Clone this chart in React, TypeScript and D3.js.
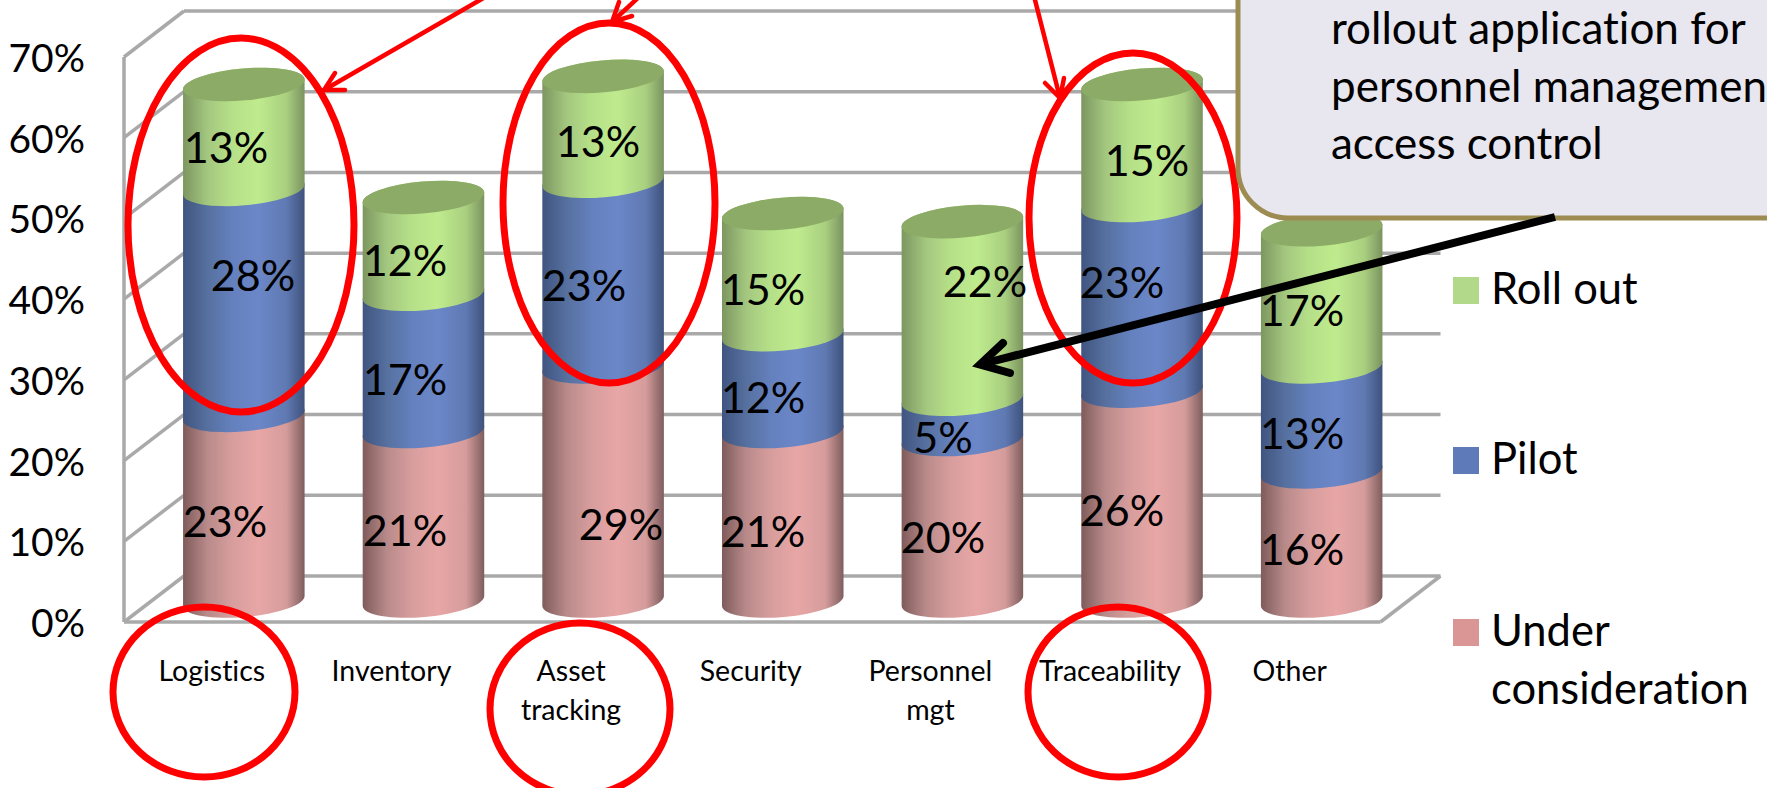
import React from "react";
import * as d3 from "d3";

// Adoption of tracking applications by sector, stacked by project stage.
const categories = ["Logistics", "Inventory", "Asset tracking", "Security", "Personnel mgt", "Traceability", "Other"];
const underConsideration = [23, 21, 29, 21, 20, 26, 16];
const pilot = [28, 17, 23, 12, 5, 23, 13];
const rollOut = [13, 12, 13, 15, 22, 15, 17];
const yTicks = [0, 10, 20, 30, 40, 50, 60, 70];
const calloutLines = ["rollout application for", "personnel management", "access control"];

const WIDTH = 1767;
const HEIGHT = 788;
const FONT = "Lato, sans-serif";
const TILT = 5;
const RX = 61;
const RY = 16;
const DEPTH = { x: 60, y: -46 };

const y = d3.scaleLinear().domain([0, 70]).range([622, 57]);
const xBand = d3.scaleBand<string>().domain(categories).range([123, 1380.5]).paddingInner(0).paddingOuter(0);
const cylinderCentre = (c: string) => (xBand(c) as number) + xBand.bandwidth() / 2 + 31;
const labelCentre = (c: string) => (xBand(c) as number) + xBand.bandwidth() / 2 - 1;
const cylinderBase = (v: number) => y(v) - 21;

const stages = [
  { key: "under", name: ["Under", "consideration"], values: underConsideration, swatch: "#d99694", stops: ["#7f5b5b", "#b98a8a", "#d79d9d", "#e8a6a6", "#d59c9c", "#7e5d5d"] },
  { key: "pilot", name: ["Pilot"], values: pilot, swatch: "#5f7ab8", stops: ["#405480", "#56709f", "#6480bd", "#6b87c8", "#5f79b2", "#3f527c"] },
  { key: "roll", name: ["Roll out"], values: rollOut, swatch: "#b2d88a", stops: ["#7d9660", "#a3c77f", "#b6e088", "#bfeb8e", "#a9cf7f", "#7b9360"] },
];

// Hand-placed value labels, in the same order as the stages above.
const labelSpots: [number, number][][] = [
  [[225, 522], [253, 276], [226, 148]],
  [[405, 531], [405, 380], [405, 261]],
  [[621, 525], [584, 286], [598, 142]],
  [[763, 532], [763, 398], [763, 290]],
  [[943, 538], [943, 438], [985, 282]],
  [[1122, 511], [1122, 283], [1147, 161]],
  [[1302, 550], [1302, 434], [1302, 311]],
];

const highlightRings = [
  { cx: 241, cy: 225, rx: 113, ry: 187 },
  { cx: 609, cy: 203, rx: 106, ry: 180 },
  { cx: 1133, cy: 218, rx: 104, ry: 165 },
  { cx: 204, cy: 692, rx: 91, ry: 85 },
  { cx: 580, cy: 709, rx: 90, ry: 86 },
  { cx: 1118, cy: 692, rx: 90, ry: 85 },
];

const redArrows = [
  { from: [487, -4], tip: [324, 90], barbs: [[335, 73], [345, 90]] },
  { from: [640, -4], tip: [612, 22], barbs: [[619, 2], [632, 16]] },
  { from: [1034, -4], tip: [1060, 98], barbs: [[1045, 83], [1064, 78]] },
];

const ends = (cx: number, cy: number) => {
  const t = (TILT * Math.PI) / 180;
  return {
    lx: cx - RX * Math.cos(t),
    ly: cy + RX * Math.sin(t),
    rx: cx + RX * Math.cos(t),
    ry: cy - RX * Math.sin(t),
  };
};

// One drum of a cylinder: sides, front curve at the bottom, back curve at the top.
const drumPath = (cx: number, top: number, bottom: number) => {
  const a = ends(cx, top);
  const b = ends(cx, bottom);
  const arc = `A${RX} ${RY} ${-TILT} 0 0`;
  return `M${a.lx} ${a.ly}L${b.lx} ${b.ly}${arc} ${b.rx} ${b.ry}L${a.rx} ${a.ry}${arc} ${a.lx} ${a.ly}Z`;
};

const Cylinder = ({ index, category }: { index: number; category: string }) => {
  const cx = cylinderCentre(category);
  let running = 0;
  const drums = stages.map((s) => {
    const from = running;
    running += s.values[index];
    return { key: s.key, from, to: running };
  });
  const topY = cylinderBase(running);
  return (
    <g>
      {drums.map((d) => (
        <path
          key={d.key}
          d={drumPath(cx, cylinderBase(d.to), cylinderBase(d.from))}
          fill={`url(#grad-${d.key})`}
        />
      ))}
      <ellipse cx={cx} cy={topY} rx={RX} ry={RY} fill="#8cab66" transform={`rotate(${-TILT} ${cx} ${topY})`} />
    </g>
  );
};

export default function App() {
  const line = d3.line();
  const backX0 = 124 + DEPTH.x;
  const backX1 = 1380.5 + DEPTH.x;
  return (
    <svg
      width={WIDTH}
      height={HEIGHT}
      viewBox={`0 0 ${WIDTH} ${HEIGHT}`}
      style={{ position: "absolute", left: 0, top: 0, display: "block", background: "#fff", fontVariantLigatures: "none" }}
      fontFamily={FONT}
    >
      <defs>
        {stages.map((s) => (
          <linearGradient key={s.key} id={`grad-${s.key}`} x1="0" x2="1" y1="0" y2="0">
            {s.stops.map((c, i) => (
              <stop key={i} offset={[0, 0.2, 0.4, 0.62, 0.85, 1][i]} stopColor={c} />
            ))}
          </linearGradient>
        ))}
      </defs>

      {/* Walls and floor */}
      <g stroke="#a9a9a9" strokeWidth={3.5} fill="none">
        <line x1={124} x2={124} y1={y(70)} y2={y(0)} />
        <line x1={124} x2={1380.5} y1={y(0)} y2={y(0)} />
        <line x1={1380.5} x2={backX1} y1={y(0)} y2={y(0) + DEPTH.y} />
        {yTicks.map((t) => (
          <g key={t}>
            <line x1={124} x2={backX0} y1={y(t)} y2={y(t) + DEPTH.y} />
            <line x1={backX0} x2={backX1} y1={y(t) + DEPTH.y} y2={y(t) + DEPTH.y} />
          </g>
        ))}
      </g>

      {yTicks.map((t) => (
        <text key={t} x={85} y={y(t) + 1} dy=".36em" textAnchor="end" fontSize={39} fill="#000">
          {t}%
        </text>
      ))}

      {categories.map((c, i) => (
        <Cylinder key={c} index={i} category={c} />
      ))}

      {categories.map((c, i) =>
        stages.map((s, j) => (
          <text
            key={s.key + c}
            x={labelSpots[i][j][0]}
            y={labelSpots[i][j][1]}
            dy=".36em"
            textAnchor="middle"
            fontSize={43}
            fill="#000"
          >
            {s.values[i]}%
          </text>
        ))
      )}

      {categories.map((c) => {
        const words = c.includes(" ") ? c.split(" ") : [c];
        return (
          <text key={c} textAnchor="middle" fontSize={28.5} fill="#000">
            {words.map((w, i) => (
              <tspan key={w} x={labelCentre(c)} y={681 + i * 38.5}>
                {w}
              </tspan>
            ))}
          </text>
        );
      })}

      {/* Legend */}
      {[...stages].reverse().map((s, i) => {
        const top = [277, 447, 619][i];
        return (
          <g key={s.key}>
            <rect x={1453} y={top} width={26} height={27} fill={s.swatch} />
            <text fontSize={43.5} fill="#000">
              {s.name.map((n, k) => (
                <tspan key={n} x={1491} y={top + 27 + k * 58}>
                  {n}
                </tspan>
              ))}
            </text>
          </g>
        );
      })}

      {/* Annotations */}
      <g fill="none" stroke="#ff0000" strokeWidth={7}>
        {highlightRings.map((r, i) => (
          <ellipse key={i} {...r} />
        ))}
      </g>
      <g fill="none" stroke="#ff0000" strokeWidth={4.5} strokeLinecap="round">
        {redArrows.map((a, i) => (
          <g key={i}>
            <path d={line([a.from as [number, number], a.tip as [number, number]]) as string} />
            <path d={line([a.barbs[0] as [number, number], a.tip as [number, number], a.barbs[1] as [number, number]]) as string} />
          </g>
        ))}
      </g>

      <rect x={1238} y={-80} width={800} height={298} rx={50} ry={50} fill="#e8e6ee" stroke="#9c8c52" strokeWidth={5} />
      <text fontSize={44} fill="#000">
        {calloutLines.map((l, i) => (
          <tspan key={l} x={1331} y={44 + i * 57.5}>
            {l}
          </tspan>
        ))}
      </text>

      <g fill="none" stroke="#000" strokeLinecap="round" strokeLinejoin="miter">
        <path d="M1555 217L980 364.5" strokeWidth={8} strokeLinecap="butt" />
        <path d="M1003 343L980 364.5L1010 373" strokeWidth={8} />
      </g>
    </svg>
  );
}
